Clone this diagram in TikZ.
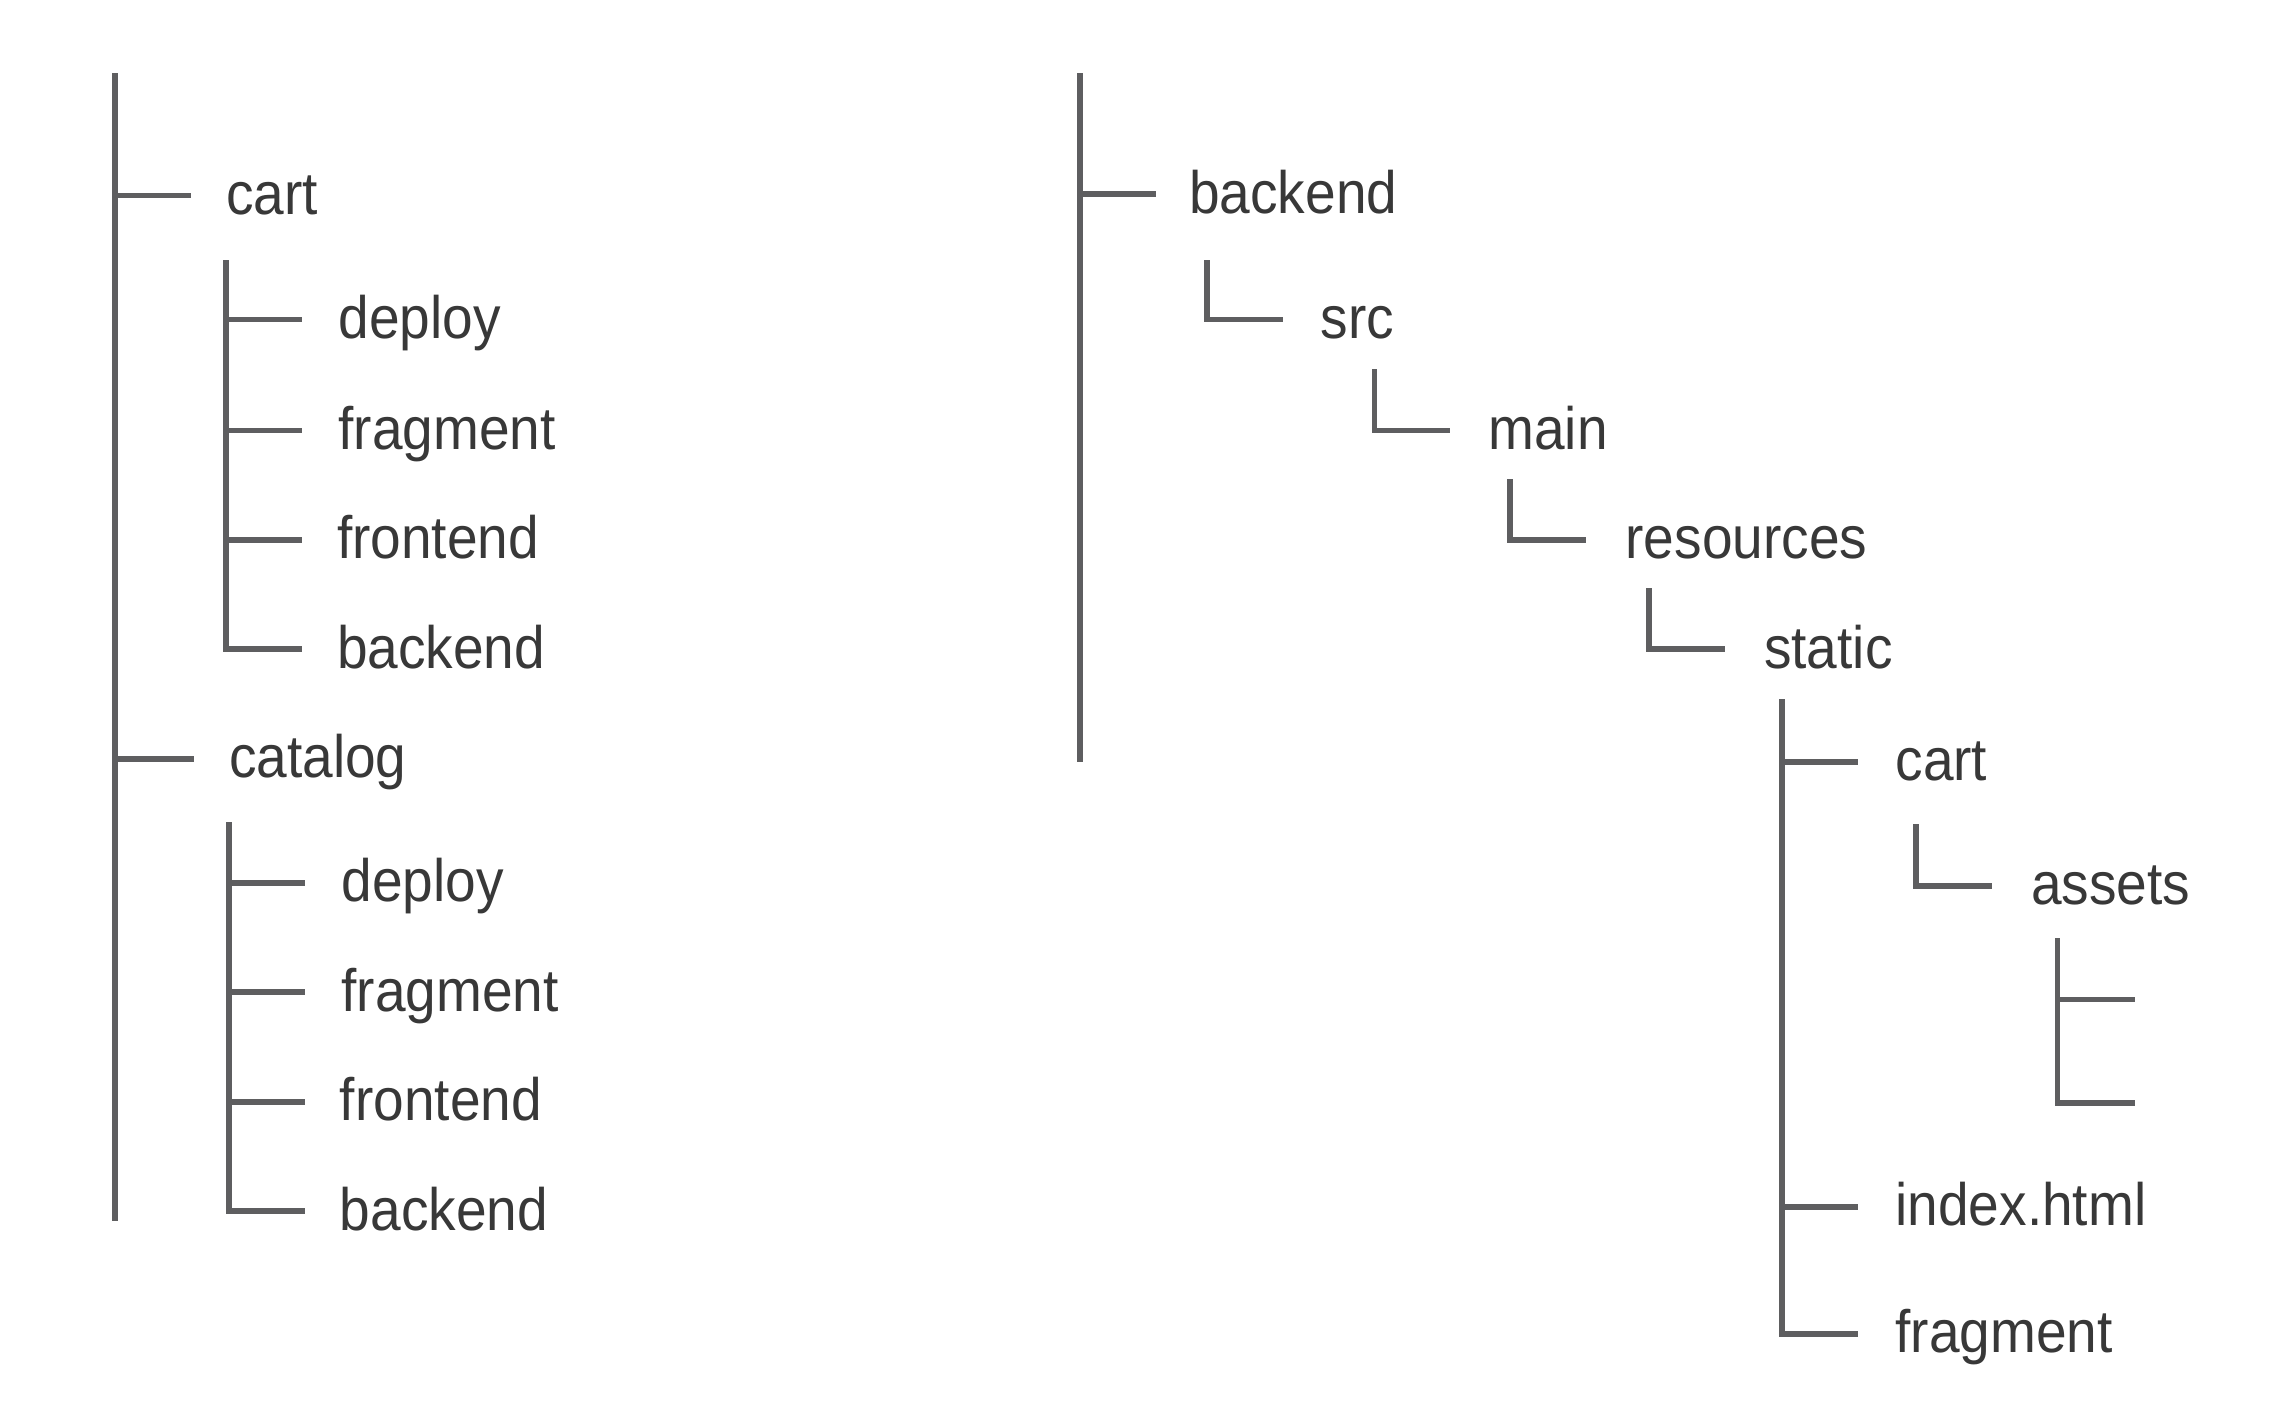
\documentclass[tikz,border=0pt]{standalone}
\usepackage{fontspec}
\setmainfont{Liberation Sans}
\newfontfamily\lblfont[FakeStretch=0.92]{Liberation Sans}
\usetikzlibrary{calc}
\definecolor{linegray}{HTML}{5E5E60}
\definecolor{textgray}{HTML}{383838}
\tikzset{
  x=1pt, y=-1pt,
  lbl/.style={anchor=base west, inner sep=0pt, outer sep=0pt, text=textgray,
              font=\lblfont\fontsize{41}{44}\selectfont},
  br/.style={draw=linegray, line width=4pt, line cap=rect, line join=miter}
}
\begin{document}
\begin{tikzpicture}
\useasboundingbox (0,0) rectangle (1568,965);
% ---------- left tree ----------
\coordinate (Atop) at (79,52);
\coordinate (Abot) at (79,835);
\node[lbl] (lcart) at (155,147) {cart};
\coordinate (Btop) at (155,180);
\node[lbl] (lcdeploy) at (232,232) {deploy};
\node[lbl] (lcfragment) at (232,308) {fragment};
\node[lbl] (lcfrontend) at (231,383) {frontend};
\node[lbl] (lcbackend) at (231,458) {backend};
\node[lbl] (lcatalog) at (157,533) {catalog};
\coordinate (Ctop) at (157,565);
\node[lbl] (lkdeploy) at (234,618) {deploy};
\node[lbl] (lkfragment) at (234,693) {fragment};
\node[lbl] (lkfrontend) at (233,768) {frontend};
\node[lbl] (lkbackend) at (233,843) {backend};

\draw[br] (Atop) -- (Abot);
\draw[br] (Atop |- 0,134) -- ++(50,0);
\draw[br] (Atop |- 0,520) -- ++(52,0);
\draw[br] (Btop) -- (155,445) -- ++(50,0);
\foreach \yy in {219,295,370}
  \draw[br] (155,\yy) -- ++(50,0);
\draw[br] (Ctop) -- (157,830) -- ++(50,0);
\foreach \yy in {605,680,755}
  \draw[br] (157,\yy) -- ++(50,0);

% ---------- right tree ----------
\coordinate (Dtop) at (740,52);
\coordinate (Dbot) at (740,520);
\node[lbl] (rbackend) at (815,146) {backend};
\coordinate (srcT) at (827,180);
\node[lbl] (rsrc) at (905,232) {src};
\coordinate (mainT) at (942,255);
\node[lbl] (rmain) at (1020,308) {main};
\coordinate (resT) at (1035,330);
\node[lbl] (rres) at (1114,383) {resources};
\coordinate (statT) at (1130,405);
\node[lbl] (rstatic) at (1209,458) {static};
\coordinate (Etop) at (1221,481);
\node[lbl] (rcart) at (1299,535) {cart};
\coordinate (assT) at (1313,567);
\node[lbl] (rassets) at (1392,620) {assets};
\coordinate (Ftop) at (1410,645);
\coordinate (f1) at (1461,685);
\coordinate (f2) at (1461,756);
\node[lbl] (rindex) at (1299,840) {index.html};
\node[lbl] (rfragment) at (1299,927) {fragment};

\draw[br] (Dtop) -- (Dbot);
\draw[br] (740,133) -- ++(50,0);
\draw[br] (srcT) -- (827,219) -- ++(50,0);
\draw[br] (mainT) -- (942,295) -- ++(50,0);
\draw[br] (resT) -- (1035,370) -- ++(50,0);
\draw[br] (statT) -- (1130,445) -- ++(50,0);
\draw[br] (Etop) -- (1221,914) -- ++(50,0);
\draw[br] (1221,522) -- ++(50,0);
\draw[br] (1221,827) -- ++(50,0);
\draw[br] (assT) -- (1313,607) -- ++(50,0);
\draw[br] (Ftop) -- (Ftop |- f2) -- (f2);
\draw[br] (Ftop |- f1) -- (f1);
\end{tikzpicture}
\end{document}
